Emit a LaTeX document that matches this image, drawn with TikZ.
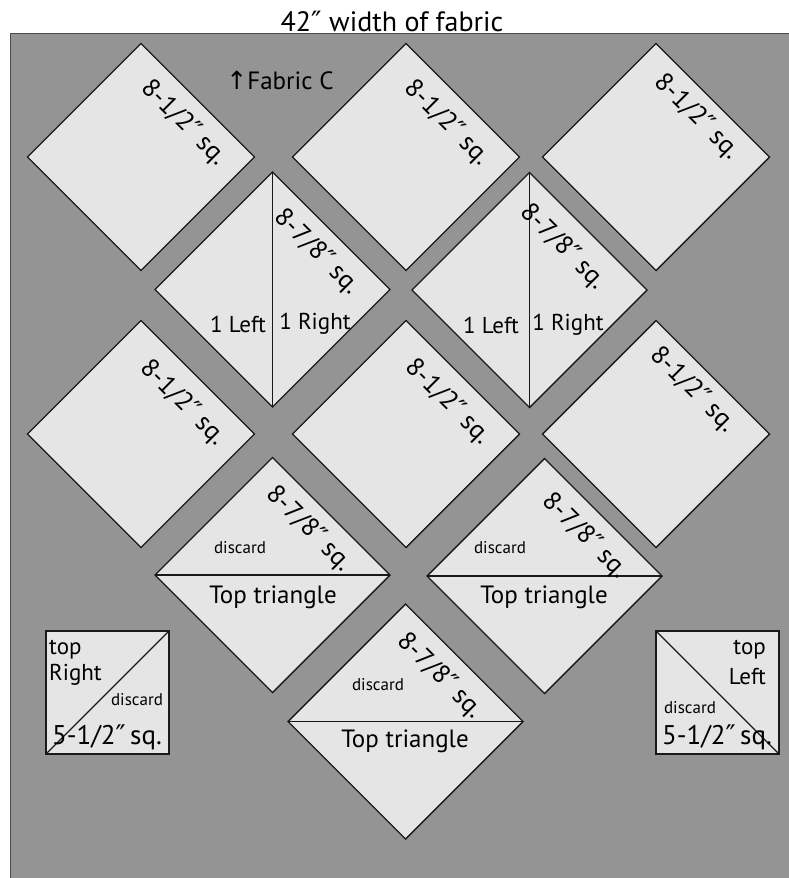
\documentclass[tikz,border=0pt]{standalone}
\usepackage{fontspec}
\setmainfont{PT Sans}
\newfontfamily\symfont{DejaVu Sans}
\newcommand\inchmark{{\symfont ″}}
\usetikzlibrary{calc}
\definecolor{fabric}{gray}{0.58}
\definecolor{piece}{gray}{0.90}
\definecolor{cutline}{gray}{0.10}
\tikzset{
  cut/.style={draw=cutline, fill=piece, line width=1.4pt, line join=miter},
  split/.style={draw=cutline, line width=1.2pt},
  sqlabel/.style={rotate=-45, inner sep=0pt, font=\fontsize{26}{26}\selectfont},
  txt/.style={inner sep=0pt, font=\fontsize{23}{23}\selectfont},
  small/.style={inner sep=0pt, font=\fontsize{17}{17}\selectfont},
}
\begin{document}
\begin{tikzpicture}[x=1pt,y=-1pt]
  \useasboundingbox (0,0) rectangle (789,878);

  % fabric piece
  \fill[fabric] (10,33) rectangle (789,878);
  \draw[gray!60!black, line width=0.8pt] (789,33) -- (10,33) -- (10,878);
  \node[inner sep=0pt, font=\fontsize{28}{28}\selectfont] (title) at (392,21) {42\inchmark\ width of fabric};
  \node[inner sep=0pt, font=\fontsize{25}{25}\selectfont] (grain) at (280,80) {{\symfont ↑}Fabric C};

  % 8-1/2" squares on point
  \foreach \cx/\cy/\nm in {141/157/a1, 406/157/a2, 656/157/a3, 141/434/a4, 406/434/a5, 656/434/a6} {
    \coordinate (\nm) at (\cx,\cy);
    \draw[cut] (\cx-113.5,\cy) -- (\cx,\cy-113.5) -- (\cx+113.5,\cy) -- (\cx,\cy+113.5) -- cycle;
  }
  \node[sqlabel] (a1lab) at (184,123) {8-1/2\inchmark\ sq.};
  \node[sqlabel] (a2lab) at (447,123) {8-1/2\inchmark\ sq.};
  \node[sqlabel] (a3lab) at (697,117) {8-1/2\inchmark\ sq.};
  \node[sqlabel] (a4lab) at (183,403) {8-1/2\inchmark\ sq.};
  \node[sqlabel] (a5lab) at (448,402) {8-1/2\inchmark\ sq.};
  \node[sqlabel] (a6lab) at (693,390) {8-1/2\inchmark\ sq.};

  % 8-7/8" squares, cut down the middle
  \foreach \cx/\cy/\nm in {272.5/289.5/b1, 529.5/290/b2} {
    \coordinate (\nm) at (\cx,\cy);
    \draw[cut] (\cx-117.5,\cy) -- (\cx,\cy-117.5) -- (\cx+117.5,\cy) -- (\cx,\cy+117.5) -- cycle;
    \draw[split] (\cx,\cy-117.5) -- (\cx,\cy+117.5);
  }
  \node[sqlabel] (b1lab) at (317,252) {8-7/8\inchmark\ sq.};
  \node[sqlabel] (b2lab) at (563,247) {8-7/8\inchmark\ sq.};
  \node[txt] (b1l) at (238,324) {1 Left};
  \node[txt] (b1r) at (315,324) {1 Right};
  \node[txt] (b2l) at (491,325) {1 Left};
  \node[txt] (b2r) at (568,325) {1 Right};

  % 8-7/8" squares, cut across
  \foreach \cx/\cy/\nm in {272.5/575/c1, 544.5/576/c2, 405.5/721.5/c3} {
    \coordinate (\nm) at (\cx,\cy);
    \draw[cut] (\cx-117.5,\cy) -- (\cx,\cy-117.5) -- (\cx+117.5,\cy) -- (\cx,\cy+117.5) -- cycle;
    \draw[split] (\cx-117.5,\cy) -- (\cx+117.5,\cy);
  }
  \node[sqlabel] (c1lab) at (309,529) {8-7/8\inchmark\ sq.};
  \node[sqlabel] (c2lab) at (585,536) {8-7/8\inchmark\ sq.};
  \node[sqlabel] (c3lab) at (440,676) {8-7/8\inchmark\ sq.};
  \node[small] (c1d) at (240,548) {discard};
  \node[small] (c2d) at (500,548) {discard};
  \node[small] (c3d) at (378,685) {discard};
  \node[txt, font=\fontsize{25}{25}\selectfont] (c1t) at (273,597) {Top triangle};
  \node[txt, font=\fontsize{25}{25}\selectfont] (c2t) at (544,597) {Top triangle};
  \node[txt, font=\fontsize{25}{25}\selectfont] (c3t) at (405,741) {Top triangle};

  % 5-1/2" corner squares
  \draw[cut, line width=2pt] (46,631) rectangle (169,754);
  \draw[split] (46,754) -- (169,631);
  \node[txt, anchor=west] (s1top) at (49,650) {top};
  \node[txt, anchor=west] (s1r) at (49,675) {Right};
  \node[small] (s1d) at (137,700) {discard};
  \node[inner sep=0pt, font=\fontsize{27}{27}\selectfont] (s1lab) at (107,737) {5-1/2\inchmark\,sq.};

  \draw[cut, line width=2pt] (656,631) rectangle (779,754);
  \draw[split] (656,631) -- (779,754);
  \node[txt, anchor=east] (s2top) at (766,650) {top};
  \node[txt, anchor=east] (s2l) at (766,677) {Left};
  \node[small] (s2d) at (690,708) {discard};
  \node[inner sep=0pt, font=\fontsize{27}{27}\selectfont] (s2lab) at (717,737) {5-1/2\inchmark\,sq.};
\end{tikzpicture}
\end{document}
